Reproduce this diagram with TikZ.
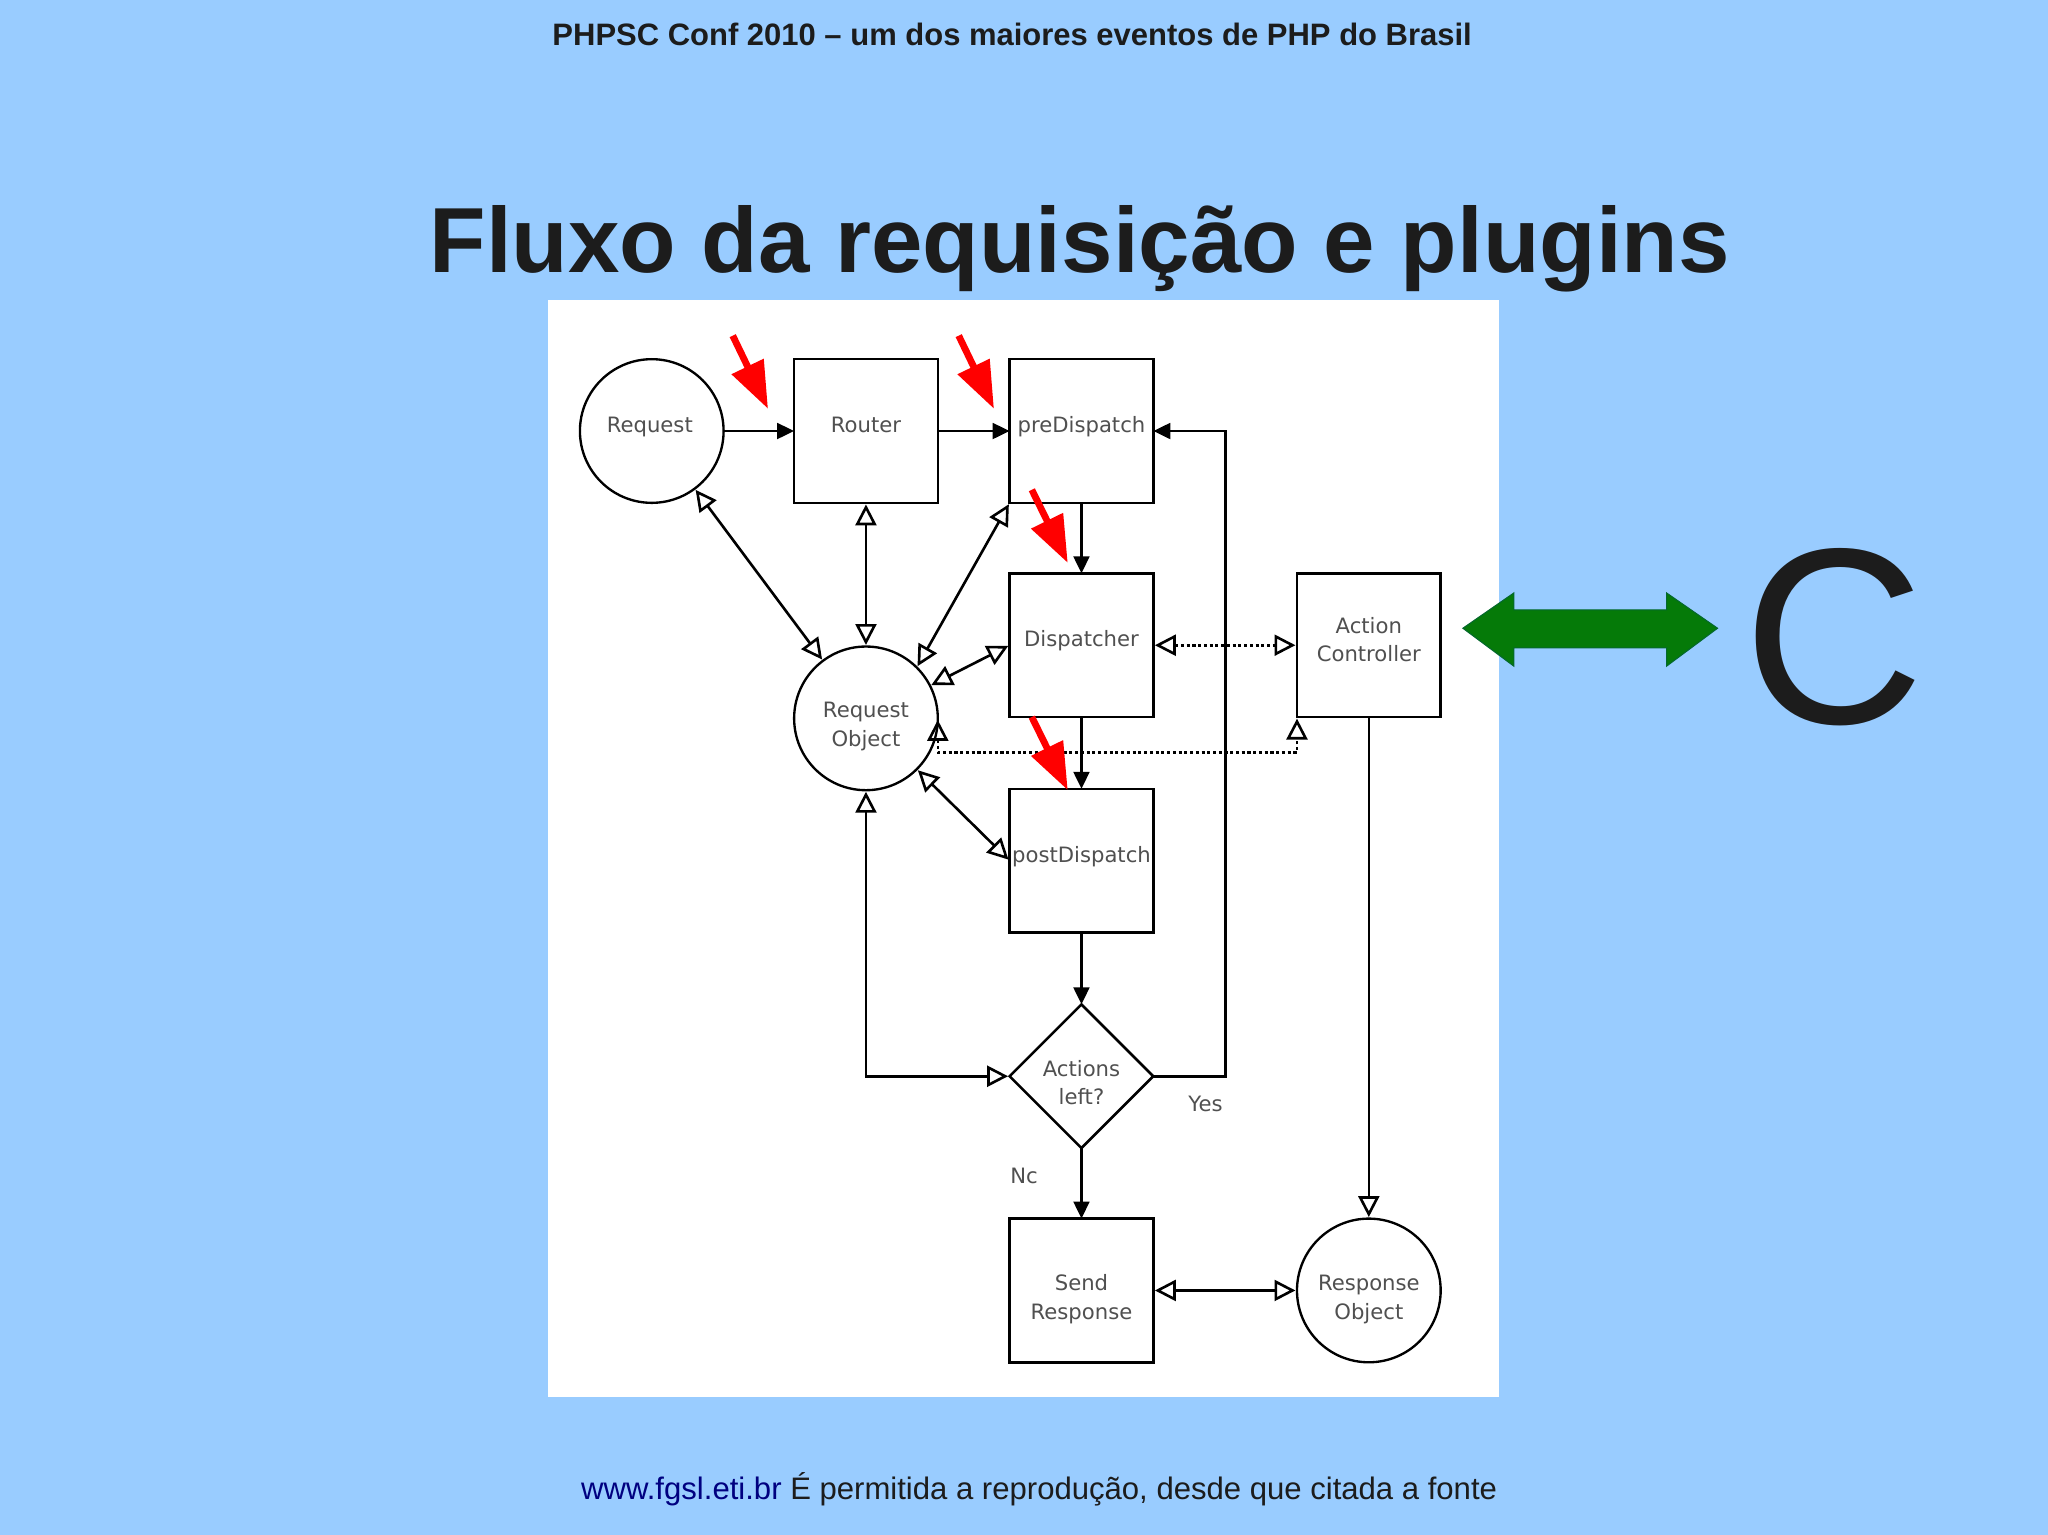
\documentclass[tikz,border=0pt]{standalone}
\usepackage{fontspec}
\setmainfont{Liberation Sans}
\newfontfamily\diafont{DejaVu Sans}
\usetikzlibrary{arrows.meta,shapes.geometric}
\definecolor{slidebg}{HTML}{99CCFF}
\definecolor{inktext}{HTML}{1C1C1C}
\definecolor{diatext}{HTML}{505050}
\definecolor{navylink}{HTML}{000080}
\definecolor{greenarrow}{HTML}{057A08}
\newcommand{\dialabel}[2]{\raisebox{#1}[0pt][0pt]{\begin{tabular}[t]{@{}c@{}}#2\end{tabular}}}
\tikzset{
  every node/.style={inner sep=0pt,outer sep=0pt},
  dia/.style={font=\diafont\fontsize{8.1}{11}\selectfont,text=diatext},
  box/.style={dia,draw=black,line width=1pt,fill=white,rectangle,minimum width=55pt,minimum height=55pt},
  ball/.style={dia,draw=black,line width=.9pt,fill=white,circle,minimum size=55pt},
  choice/.style={dia,draw=black,line width=1pt,fill=white,diamond,minimum width=55pt,minimum height=55pt,aspect=1},
  flow/.style={line width=1.1pt,draw=black,-{Triangle[length=6.5pt,width=6pt]}},
  dataflow/.style={line width=1pt,draw=black,shorten <=.6pt,shorten >=.6pt,{Triangle[open,length=8pt,width=8pt,line width=1pt]}-{Triangle[open,length=8pt,width=8pt,line width=1pt]}},
  oneflow/.style={line width=1pt,draw=black,shorten >=.6pt,-{Triangle[open,length=8pt,width=8pt,line width=1pt]}},
  dottedflow/.style={dataflow,dash pattern=on 1.2pt off 1pt},
  redmark/.style={line width=2.6pt,draw=red,-{Triangle[length=18pt,width=13pt]}},
  heading/.style={anchor=base west,text=inktext},
}
\begin{document}
\begin{tikzpicture}[x=0.5pt,y=-0.5pt]
\useasboundingbox (0,0) rectangle (1568,1175.2);
\fill[slidebg] (0,0) rectangle (1568,1175.2);
\fill[white] (419.5,230) rectangle (1148,1069.5);

\node[heading,font=\bfseries\fontsize{11.86}{14}\selectfont] (top) at (423,35) {PHPSC Conf 2010 – um dos maiores eventos de PHP do Brasil};
\node[heading,font=\bfseries\fontsize{35.4}{40}\selectfont] (title) at (329,209) {Fluxo da requisição e plugins};
\node[heading,font=\fontsize{11.9}{14}\selectfont] (foot) at (445,1148) {\textcolor{navylink}{www.fgsl.eti.br} É permitida a reprodução, desde que citada a fonte};
\node[heading,font=\fontsize{96}{100}\selectfont] (c) at (1335,554) {C};

\node[ball] (rq) at (499,330) {\dialabel{-.5pt}{\hspace{-1.5pt}Request}};
\node[box] (router) at (663,330) {\dialabel{-.5pt}{Router}};
\node[box] (pre) at (828,330) {\dialabel{-.5pt}{preDispatch}};
\node[box] (disp) at (828,494) {\dialabel{-.5pt}{Dispatcher}};
\node[box] (post) at (828,659) {\dialabel{-.5pt}{postDispatch}};
\node[ball] (ro) at (663,550) {\dialabel{.4pt}{Request\\Object}};
\node[box] (ac) at (1048,494) {\dialabel{4.6pt}{Action\\Controller}};
\node[choice] (dec) at (828,824) {\dialabel{0pt}{Actions\\left?}};
\node[box] (send) at (828,988) {\dialabel{0pt}{Send\\Response}};
\node[ball] (resp) at (1048,988) {\dialabel{0pt}{Response\\Object}};
\node[dia] (yes) at (923,845) {Yes};
\node[dia] (no) at (784,900) {Nc};

\draw[flow] (rq) -- (router.west |- rq);
\draw[flow] (router) -- (pre);
\draw[flow] (pre) -- (disp);
\draw[flow] (disp) -- (post);
\draw[flow] (post) -- (dec);
\draw[flow] (dec) -- (send);
\draw[flow] (dec.east) -- ++(55,0) |- (pre.east);

\draw[dataflow] (rq) -- (ro);
\draw[dataflow] (router) -- (ro);
\draw[dataflow] (pre.south west) -- (ro.45);
\draw[dataflow] (disp.west) -- (ro.27);
\draw[dataflow] (ro.-45) -- (post.west);
\draw[dataflow] (ro.south) |- (dec.west);
\draw[dataflow] (send) -- (resp);
\draw[oneflow] (ac) -- (resp);
\draw[dottedflow] (disp) -- (ac);
\draw[dottedflow] (ro.east) -- ++(0,26) -| (ac.south west);

\coordinate (m1a) at (561,257); \coordinate (m1b) at (588,313);
\coordinate (m2a) at (734,257); \coordinate (m2b) at (761,313);
\coordinate (m3a) at (790,375); \coordinate (m3b) at (817.5,431);
\coordinate (m4a) at (790,549); \coordinate (m4b) at (817.5,605);
\draw[redmark] (m1a) -- (m1b);
\draw[redmark] (m2a) -- (m2b);
\draw[redmark] (m3a) -- (m3b);
\draw[redmark] (m4a) -- (m4b);

\draw[fill=greenarrow,draw=greenarrow!85!blue,line width=.4pt] (1120,481) -- (1159,454) -- (1159,467) -- (1276,467) -- (1276,454) -- (1315,481) -- (1276,510) -- (1276,496) -- (1159,496) -- (1159,510) -- cycle;
\end{tikzpicture}
\end{document}
